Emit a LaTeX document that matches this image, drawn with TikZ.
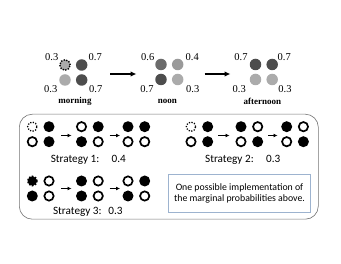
\documentclass[tikz,border=0pt]{standalone}
\usepackage{fontspec}
\setmainfont{Liberation Serif}
\newfontfamily\carlito{Carlito}
\usetikzlibrary{arrows.meta}
\definecolor{dk}{HTML}{4D4D4D}
\definecolor{md}{HTML}{6B6B6B}
\definecolor{lt}{HTML}{ABABAB}
\definecolor{lm}{HTML}{9A9A9A}
\definecolor{boxblue}{HTML}{9DB3CF}
\newcommand\grp[7]{%
  \node[#4] (#1a) at (#2,#3) {};
  \node[#5] (#1b) at (#2+16.7,#3) {};
  \node[#6] (#1c) at (#2,#3+15) {};
  \node[#7] (#1d) at (#2+16.7,#3+15) {};
}
\begin{document}
\begin{tikzpicture}[x=1pt,y=-1pt,
  bigdot/.style={circle,inner sep=0pt,minimum size=11.5pt},
  dkd/.style={bigdot,fill=dk},
  mdd/.style={bigdot,fill=md},
  ltd/.style={bigdot,fill=lt},
  lmd/.style={bigdot,fill=lm},
  dotd/.style={bigdot,fill=lt,draw=black,line width=1.4pt,dash pattern=on 1.4pt off 1.3pt,minimum size=10.5pt},
  prob/.style={inner sep=0pt,font=\fontsize{10.5}{12}\selectfont},
  timelbl/.style={inner sep=0pt,font=\fontsize{9}{10}\selectfont\bfseries},
  bigarrow/.style={-{Latex[length=6pt,width=5.5pt]},line width=1.8pt},
  sd/.style={circle,inner sep=0pt},
  fb/.style={sd,fill=black,minimum size=11pt},
  ob/.style={sd,draw=black,fill=white,line width=1.7pt,minimum size=9.3pt},
  ot/.style={sd,draw=black,fill=white,line width=1.3pt,dash pattern=on 1.2pt off 1.5pt,minimum size=9.3pt},
  burst/.style={sd,fill=black,draw=black,line width=1.6pt,dash pattern=on 1.6pt off 1.4pt,minimum size=9.3pt},
  smarrow/.style={-{Latex[length=4pt,width=4pt]},line width=1.1pt},
  strat/.style={inner sep=0pt,font=\carlito\fontsize{11.2}{13}\selectfont},
]
\useasboundingbox (0,0) rectangle (341,264);
% top row
\grp{m}{65}{65}{dotd}{dkd}{ltd}{dkd}
\grp{n}{161}{64.5}{mdd}{lmd}{dkd}{ltd}
\grp{f}{255.5}{64.5}{dkd}{dkd}{ltd}{ltd}
\node[prob] (m1) at (51.7,57.3) {0.3};
\node[prob] (m2) at (95.3,57.3) {0.7};
\node[prob] (m3) at (50.7,88.7) {0.3};
\node[prob] (m4) at (95.7,88.7) {0.7};
\node[prob] (n1) at (147.7,57.3) {0.6};
\node[prob] (n2) at (192.3,57.3) {0.4};
\node[prob] (n3) at (147,88.7) {0.7};
\node[prob] (n4) at (192.7,88.7) {0.3};
\node[prob] (f1) at (241,57.3) {0.7};
\node[prob] (f2) at (284.3,57.3) {0.7};
\node[prob] (f3) at (239.3,88.7) {0.3};
\node[prob] (f4) at (285,88.7) {0.3};
\node[timelbl] (mc) at (75,101.5) {morning};
\node[timelbl] (nc) at (167.3,101.5) {noon};
\node[timelbl] (fc) at (262.3,101.5) {afternoon};
\coordinate (a1s) at (110,74);
\coordinate (a1e) at (136.5,74);
\coordinate (a2s) at (204.5,74);
\coordinate (a2e) at (230.5,74);
\draw[bigarrow] (a1s) -- (a1e);
\draw[bigarrow] (a2s) -- (a2e);
% outer box
\node[draw=black!55,line width=0.6pt,rounded corners=13pt,minimum width=299pt,minimum height=105pt,inner sep=0pt] (outer) at (168.8,166.7) {};
% strategy 1
\grp{sa}{32.3}{126.7}{ot}{fb}{ob}{fb}
\grp{sb}{81.5}{126.7}{ob}{fb}{fb}{ob}
\grp{sc}{128}{126.7}{fb}{fb}{ob}{ob}
\coordinate (s1a) at (61,135.5); \coordinate (s1b) at (71.5,135.5);
\coordinate (s1c) at (109.5,135.5); \coordinate (s1d) at (120,135.5);
\draw[smarrow] (s1a) -- (s1b);
\draw[smarrow] (s1c) -- (s1d);
\node[strat] (t1) at (88.3,160) {Strategy 1:\hspace{1.1em}0.4};
% strategy 2
\grp{ta}{191}{126.7}{ot}{fb}{ob}{fb}
\grp{tb}{241}{126.7}{fb}{ob}{ob}{fb}
\grp{tc}{286.7}{126.7}{fb}{ob}{ob}{fb}
\coordinate (s2a) at (218,135.5); \coordinate (s2b) at (229.5,135.5);
\coordinate (s2c) at (268,135.5); \coordinate (s2d) at (277.5,135.5);
\draw[smarrow] (s2a) -- (s2b);
\draw[smarrow] (s2c) -- (s2d);
\node[strat] (t2) at (242.7,160) {Strategy 2:\hspace{1.1em}0.3};
% strategy 3
\grp{ua}{32.3}{181}{burst}{ob}{fb}{ob}
\grp{ub}{81.5}{181}{fb}{ob}{fb}{ob}
\grp{uc}{128}{181}{ob}{fb}{fb}{ob}
\coordinate (s3a) at (61,188.5); \coordinate (s3b) at (71.5,188.5);
\coordinate (s3c) at (109.5,188.5); \coordinate (s3d) at (120,188.5);
\draw[smarrow] (s3a) -- (s3b);
\draw[smarrow] (s3c) -- (s3d);
\node[strat] (t3) at (87.8,211.7) {Strategy 3:\hspace{0.6em}0.3};
% note box
\node[draw=boxblue,line width=0.8pt,minimum width=142.5pt,minimum height=38pt,inner sep=0pt,align=center,font=\carlito\fontsize{9.8}{11.2}\selectfont] (note) at (239.5,193.3) {One possible implementation of\\the marginal probabilities above.};
\end{tikzpicture}
\end{document}
